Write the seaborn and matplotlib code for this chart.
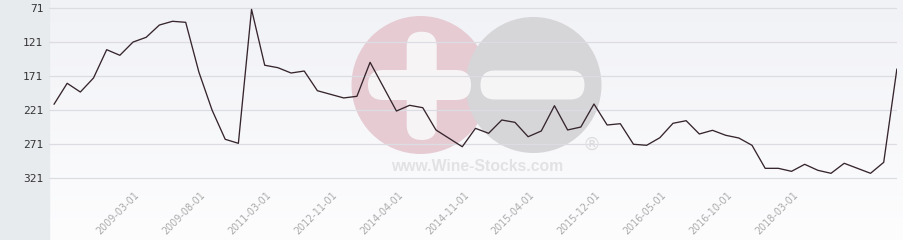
import numpy as np
import pandas as pd
import matplotlib
matplotlib.use("Agg")
import matplotlib.pyplot as plt
from matplotlib.patches import Circle, FancyBboxPatch, Rectangle
import seaborn as sns

# ---- data ----
values = [212.3, 181.5, 194.3, 173.7, 132.2, 140.4, 121, 114, 96, 90.5,
          92, 165, 220.7, 263.7, 269.6, 73, 155, 158.6, 166.4, 163.5,
          192.4, np.nan, 203, 200.6, 150.7, np.nan, 222.2, 213.8, 217.3, 250,
          np.nan, 274.6, 247.6, 254.9, 235.4, 238.8, 259.9, 251.5, 214.4, 250,
          245.7, 211.9, 242.7, 240.8, 271, 272.5, 261.4, 240.2, 236.4, 255.9,
          250.5, 257.8, 261.8, 272.5, 306.3, 306.3, 310.7, 300.4, 309.2, 313.6,
          298.9, np.nan, 313.6, 297.5, 160.5]
tick_labels = ["2009-03-01", "2009-08-01", "2011-03-01", "2012-11-01",
               "2014-04-01", "2014-11-01", "2015-04-01", "2015-12-01",
               "2016-05-01", "2016-10-01", "2018-03-01"]
y_ticks = [71, 121, 171, 221, 271, 321]
watermark = "www.Wine-Stocks.com"

df = pd.DataFrame({"x": np.arange(len(values)), "value": values})

sns.set_theme(style="white")
W, H = 904, 240
fig = plt.figure(figsize=(W / 100, H / 100), dpi=100)
fig.patch.set_facecolor("#fdfdfe")

# background gradient (whole figure right of the label panel)
bg = fig.add_axes([0, 0, 1, 1], zorder=0)
bg.set_xlim(0, W)
bg.set_ylim(H, 0)
bg.axis("off")
grad = np.linspace(0, 1, 256)[:, None]
cmap = matplotlib.colors.LinearSegmentedColormap.from_list("g", ["#f1f2f6", "#fdfdfe"])
bg.imshow(grad, extent=[49, W, H, 0], aspect="auto", cmap=cmap, zorder=0)
bg.add_patch(Rectangle((0, 0), 49, H, color="#e8ebee", zorder=1))

# watermark
pink, grey = "#e6cbd3", "#d6d6d9"
bg.add_patch(Circle((420.5, 85), 69, color=pink, zorder=2, lw=0))
bg.add_patch(Circle((533.5, 85), 68, color=grey, zorder=2, lw=0))
bg.add_patch(FancyBboxPatch((406.7 + 15, 31.7 + 15), 0, 108.3 - 30,
                            boxstyle="round,pad=15", color="#f7f4f6", zorder=3, lw=0))
bg.add_patch(FancyBboxPatch((368 + 15, 70 + 15), 103 - 30, 0,
                            boxstyle="round,pad=15", color="#f7f4f6", zorder=3, lw=0))
bg.add_patch(FancyBboxPatch((480 + 15, 70.5 + 14.5), 105 - 30, 0,
                            boxstyle="round,pad=14.5", color="#f5f5f6", zorder=3, lw=0))
bg.text(477, 166.5, watermark, ha="center", va="center", fontsize=11.3,
        fontweight="bold", color="#e2e2e5", zorder=3, family="Liberation Sans")
bg.text(592, 145, "\u00ae", ha="center", va="center", fontsize=13,
        color="#dcdcdf", zorder=3, family="DejaVu Sans")

# main axes
px = 13.17
x0 = 54
left_px, right_px, top_px, bot_px = 49, 897, 0, 188
ax = fig.add_axes([left_px / W, 1 - bot_px / H, (right_px - left_px) / W,
                   (bot_px - top_px) / H], zorder=2)
ax.patch.set_alpha(0)
sns.lineplot(data=df, x="x", y="value", ax=ax, color="#36252c", linewidth=0.95,
             estimator=None, sort=False)

ax.set_xlim(-(x0 - left_px) / px, (right_px - x0) / px)
ppv = 34.07 / 50.0
ax.set_ylim(71 + (bot_px - 8) / ppv, 71 - (8 - top_px) / ppv)
ax.set_yticks(y_ticks)
ax.set_yticklabels([str(v) for v in y_ticks], family="DejaVu Sans Mono",
                   fontsize=8, color="#333333")
ax.tick_params(axis="y", length=0, pad=4)
ax.set_xticks(np.arange(6, 6 + 5 * len(tick_labels), 5))
ax.set_xticklabels(tick_labels, rotation=45, ha="right", va="center",
                   rotation_mode="anchor", fontsize=6.9, color="#ababab",
                   family="DejaVu Sans")
ax.tick_params(axis="x", length=0, pad=4)
for lbl in ax.get_xticklabels():
    lbl.set_transform(lbl.get_transform() +
                      matplotlib.transforms.ScaledTranslation(5 / 100, 0, fig.dpi_scale_trans))
ax.yaxis.grid(True, color="#dcdde2", linewidth=0.9)
ax.xaxis.grid(False)
for s in ax.spines.values():
    s.set_visible(False)
ax.set_xlabel("")
ax.set_ylabel("")

fig.savefig("out.png", dpi=100)
